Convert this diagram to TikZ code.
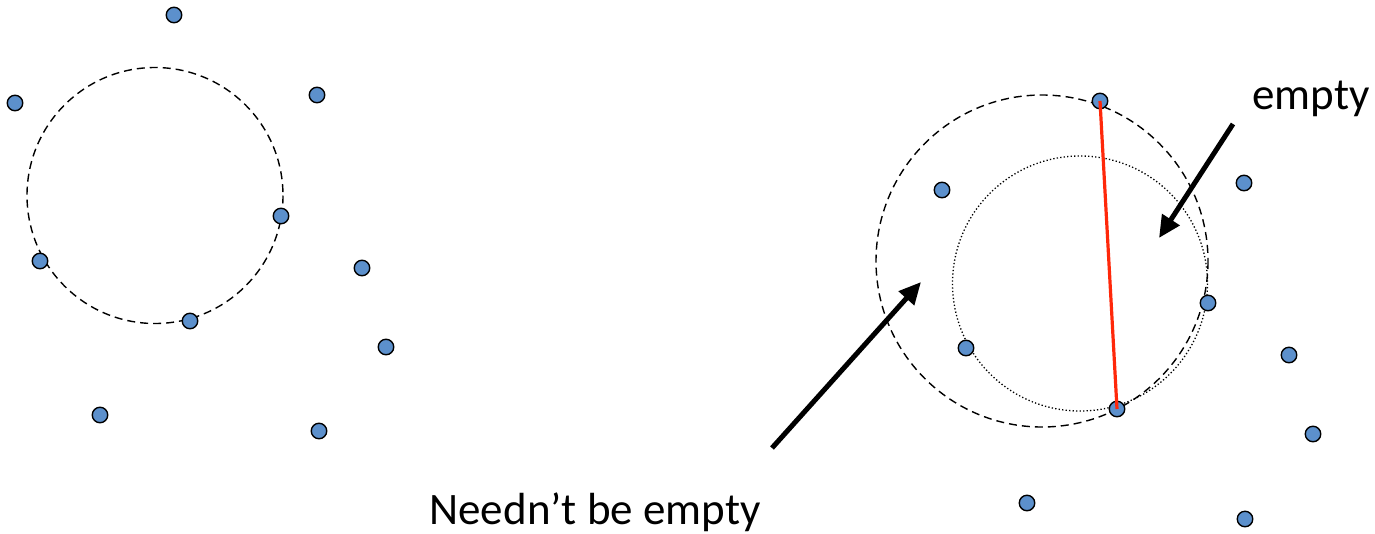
\documentclass[tikz,border=0pt]{standalone}
\usepackage{fontspec}
\setmainfont{Carlito}
\usetikzlibrary{arrows.meta}
\definecolor{dotblue}{RGB}{92,144,204}
\definecolor{chord}{RGB}{255,40,10}
\tikzset{
  pt/.style={circle,draw=black,line width=1.4pt,fill=dotblue,minimum size=15.5pt,inner sep=0pt},
  dashc/.style={draw=black,line width=1.4pt,dash pattern=on 8pt off 5pt},
  dotc/.style={draw=black,line width=1.3pt,dash pattern=on 1.3pt off 2.2pt},
  bigarrow/.style={line width=5pt,-{Triangle[length=22pt,width=20pt]}},
  lbl/.style={font=\fontsize{45}{50}\selectfont,inner sep=0pt}
}
\begin{document}
\begin{tikzpicture}[x=1pt,y=-1pt]
\useasboundingbox (0,0) rectangle (1375,533);
% left circle
\draw[dashc] (155,195.5) circle[radius=128];
\node[pt] (l1) at (174,15) {};
\node[pt] (l2) at (15,103) {};
\node[pt] (l3) at (317,95) {};
\node[pt] (l4) at (281,216) {};
\node[pt] (l5) at (40,261) {};
\node[pt] (l6) at (362,268) {};
\node[pt] (l7) at (190,321) {};
\node[pt] (l8) at (386,347) {};
\node[pt] (l9) at (100,415) {};
\node[pt] (l10) at (319,431) {};
% right circles
\draw[dashc] (1042,261) circle[radius=166];
\draw[dotc] (1080,283.5) circle[radius=127.5];
\node[pt] (r1) at (1100,101) {};
\node[pt] (r2) at (942,190) {};
\node[pt] (r3) at (1244,183) {};
\node[pt] (r4) at (1208,303) {};
\node[pt] (r5) at (966,348) {};
\node[pt] (r6) at (1289,355) {};
\node[pt] (r7) at (1117,409) {};
\node[pt] (r8) at (1313,434) {};
\node[pt] (r9) at (1027,503) {};
\node[pt] (r10) at (1245,519) {};
\draw[chord,line width=3.2pt] (r1.center) -- (r7.center);
% labels and arrows
\node[lbl] (empty) at (1311,99) {empty};
\node[lbl] (needn) at (595,512) {Needn’t be empty};
\coordinate (e0) at (1233,124);
\coordinate (e1) at (1159,238);
\coordinate (n0) at (772,448);
\coordinate (n1) at (921,282);
\draw[bigarrow] (e0) -- (e1);
\draw[bigarrow] (n0) -- (n1);
\end{tikzpicture}
\end{document}
